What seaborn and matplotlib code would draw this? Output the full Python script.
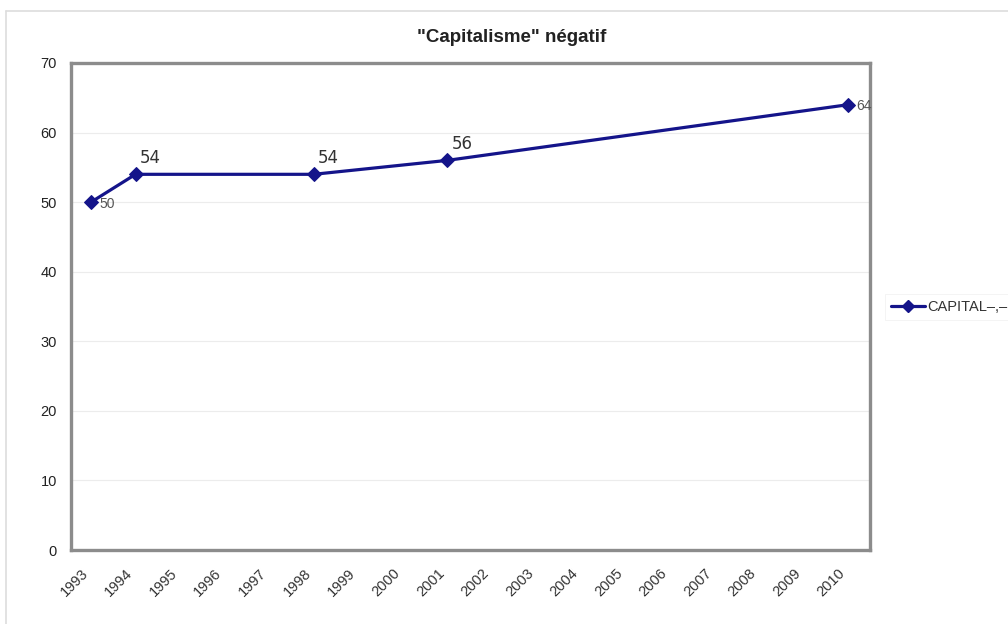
import matplotlib
matplotlib.use("Agg")
import matplotlib.pyplot as plt
import matplotlib.transforms as mtransforms
import seaborn as sns
import pandas as pd
from matplotlib.lines import Line2D

# Survey results: share describing "capitalisme" negatively
years = [1993, 1994, 1998, 2001, 2010]
values = [50, 54, 54, 56, 64]
year_ticks = list(range(1993, 2011))
y_ticks = list(range(0, 80, 10))
series_name = "CAPITAL\u2013,\u2013"
title = "\"Capitalisme\" n\u00e9gatif"

sns.set_theme(style="white")
plt.rcParams["font.family"] = ["Liberation Sans", "DejaVu Sans"]

df = pd.DataFrame({"annee": years, "valeur": values})

fig = plt.figure(figsize=(10.08, 6.24), dpi=100)
ax = fig.add_axes([71 / 1008, 1 - 550 / 624, (870 - 71) / 1008, (550 - 63) / 624])

navy = "#14148a"
sns.lineplot(data=df, x="annee", y="valeur", ax=ax, color=navy, linewidth=2.3,
             marker="D", markersize=7, markeredgecolor=navy, markerfacecolor=navy)

ax.set_xlim(1992.55, 2010.5)
ax.set_ylim(0, 70)
ax.set_xticks(year_ticks)
ax.set_xticklabels([str(y) for y in year_ticks], rotation=45, ha="right",
                   rotation_mode="anchor", fontsize=10.5, color="#333333")
ax.set_yticks(y_ticks)
ax.set_yticklabels([str(v) for v in y_ticks], fontsize=10.5, color="#222222")
ax.tick_params(axis="x", pad=6, length=0)
ax.tick_params(axis="y", pad=10, length=0)
ax.set_xlabel("")
ax.set_ylabel("")

# shift the slanted year labels a little left and down
shift = mtransforms.ScaledTranslation(-10 / 100, -8 / 100, fig.dpi_scale_trans)
for lbl in ax.get_xticklabels():
    lbl.set_transform(lbl.get_transform() + shift)

ax.grid(axis="y", color="#ececec", linewidth=0.8)
ax.set_axisbelow(True)
for sp in ax.spines.values():
    sp.set_color("#8c8c8c")
    sp.set_linewidth(2.4)

# Value labels: side labels in small grey type, top labels larger
side_style = dict(fontsize=10, color="#555555", va="center", ha="left",
                  family=["Liberation Sans"])
top_style = dict(fontsize=12, color="#333333", va="bottom", ha="left",
                 family=["DejaVu Sans"])
for yr, v in zip(years, values):
    if yr in (1993, 2010):
        ax.annotate(str(v), (yr, v), xytext=(6, -1), textcoords="offset points", **side_style)
    else:
        ax.annotate(str(v), (yr, v), xytext=(3, 5), textcoords="offset points", **top_style)

fig.text(512 / 1008, 1 - 37 / 624, title, ha="center", va="center",
         fontsize=13.5, fontweight="bold", color="#222222")

handle = Line2D([], [], color=navy, linewidth=2.3, marker="D", markersize=6)
leg = fig.legend([handle], [series_name], loc="center left",
                 bbox_to_anchor=(878 / 1008, 1 - 307 / 624), frameon=True,
                 fontsize=10.5, handlelength=2.3, handletextpad=0.15,
                 borderpad=0.4, fancybox=False)
leg.get_frame().set_edgecolor("#f0f0f0")
leg.get_frame().set_linewidth(0.6)
for t in leg.get_texts():
    t.set_color("#333333")

# Outer chart-area border
fig.add_artist(Line2D([6 / 1008, 6 / 1008], [0, 1 - 11 / 624], transform=fig.transFigure,
                      color="#dddddd", linewidth=1.2))
fig.add_artist(Line2D([6 / 1008, 1], [1 - 11 / 624, 1 - 11 / 624], transform=fig.transFigure,
                      color="#dddddd", linewidth=1.2))

fig.savefig("out.png", dpi=100, facecolor="white")
